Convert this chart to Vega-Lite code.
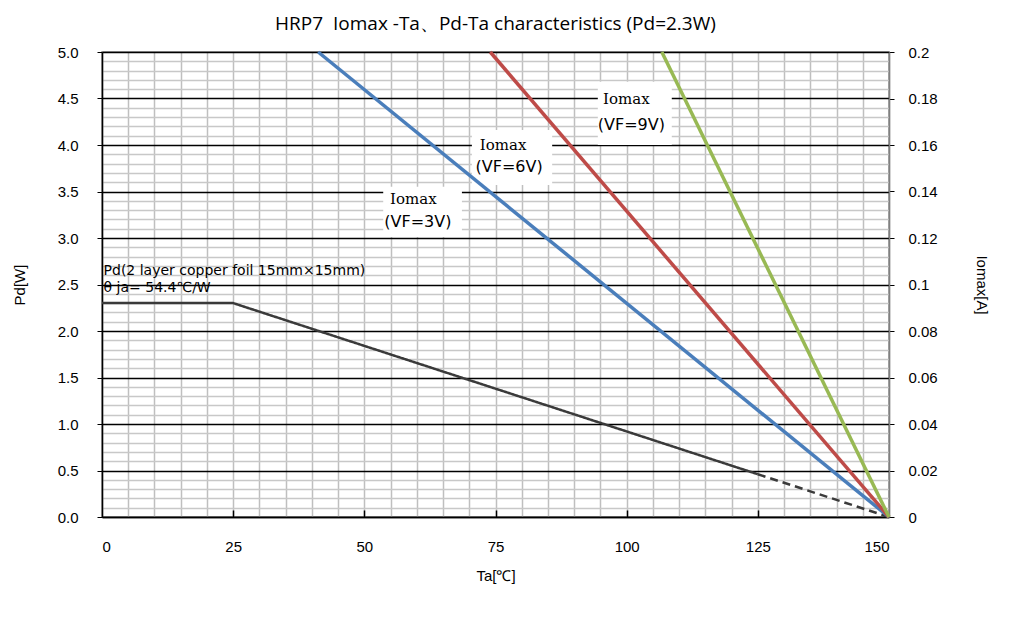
{
  "$schema": "https://vega.github.io/schema/vega-lite/v6.json",
  "width": 787,
  "height": 465,
  "autosize": "none",
  "padding": {"left": 102, "top": 52, "right": 128, "bottom": 113},
  "background": "white",
  "title": {"text": "HRP7\u00a0\u00a0Iomax -Ta、Pd-Ta characteristics\u00a0(Pd=2.3W)", "fontSize": 19, "fontWeight": "normal", "font": "Open Sans", "color": "#000", "offset": 11},
  "config": {
    "view": {"stroke": "#808080", "strokeWidth": 1.5},
    "axis": {"labelFont": "Liberation Sans", "titleFont": "Liberation Sans", "labelFontSize": 15, "titleFontSize": 15, "titleFontWeight": "normal", "labelColor": "#000", "titleColor": "#000"}
  },
  "datasets": {
    "pd": [
      {"Ta": 0, "Pd": 2.3, "style": "solid"},
      {"Ta": 25, "Pd": 2.3, "style": "solid"},
      {"Ta": 125, "Pd": 0.46, "style": "solid"},
      {"Ta": 125, "Pd": 0.46, "style": "dashed"},
      {"Ta": 150, "Pd": 0, "style": "dashed"}
    ],
    "io": [
      {"Ta": 41.2, "I": 0.2, "series": "VF=3V"},
      {"Ta": 150, "I": 0, "series": "VF=3V"},
      {"Ta": 74, "I": 0.2, "series": "VF=6V"},
      {"Ta": 150, "I": 0, "series": "VF=6V"},
      {"Ta": 106.7, "I": 0.2, "series": "VF=9V"},
      {"Ta": 150, "I": 0, "series": "VF=9V"}
    ],
    "boxes": [
      {"Ta": 53.6, "Ta2": 68.6, "Pd": 3.01, "Pd2": 3.55},
      {"Ta": 70.5, "Ta2": 85.8, "Pd": 3.57, "Pd2": 4.16},
      {"Ta": 94.5, "Ta2": 108.6, "Pd": 4.0, "Pd2": 4.68}
    ],
    "lab1": [
      {"Ta": 54.9, "Pd": 3.42, "text": "Iomax"},
      {"Ta": 72.0, "Pd": 4.0, "text": "Iomax"},
      {"Ta": 95.5, "Pd": 4.5, "text": "Iomax"}
    ],
    "lab2": [
      {"Ta": 53.8, "Pd": 3.17, "text": "(VF=3V)"},
      {"Ta": 71.2, "Pd": 3.76, "text": "(VF=6V)"},
      {"Ta": 94.5, "Pd": 4.22, "text": "(VF=9V)"}
    ],
    "note": [
      {"Ta": 0.3, "Pd": 2.64, "text": "Pd(2 layer copper foil  15mm×15mm)"},
      {"Ta": 0.3, "Pd": 2.46, "text": "θ ja= 54.4℃/W"}
    ]
  },
  "encoding": {
    "x": {
      "field": "Ta", "type": "quantitative",
      "scale": {"domain": [0, 150], "nice": false},
      "axis": {
        "title": "Ta[℃]",
        "values": [0,5,10,15,20,25,30,35,40,45,50,55,60,65,70,75,80,85,90,95,100,105,110,115,120,125,130,135,140,145,150],
        "labelExpr": "datum.value % 25 === 0 ? datum.label : ''",
        "labelOverlap": false,
        "grid": true,
        "gridColor": "#bfbfbf",
        "gridWidth": 1.5,
        "gridOpacity": 1,
        "domainColor": "#000",
        "domainWidth": 1.5,
        "ticks": true,
        "tickSize": -7,
        "tickWidth": 1.5,
        "tickColor": {"condition": {"test": "datum.value % 25 === 0 && datum.value > 0 && datum.value < 150", "value": "#000"}, "value": "transparent"},
        "labelPadding": 29,
        "titlePadding": 14
      }
    }
  },
  "layer": [
    {
      "encoding": {
        "y": {
          "field": "Pd", "type": "quantitative",
          "scale": {"domain": [0, 5], "nice": false},
          "axis": {
            "title": "Pd[W]",
            "values": [0,0.1,0.2,0.3,0.4,0.5,0.6,0.7,0.8,0.9,1,1.1,1.2,1.3,1.4,1.5,1.6,1.7,1.8,1.9,2,2.1,2.2,2.3,2.4,2.5,2.6,2.7,2.8,2.9,3,3.1,3.2,3.3,3.4,3.5,3.6,3.7,3.8,3.9,4,4.1,4.2,4.3,4.4,4.5,4.6,4.7,4.8,4.9,5],
            "labelExpr": "round(datum.value*10) % 5 === 0 ? format(datum.value, '.1f') : ''",
            "labelOverlap": false,
            "grid": true,
            "gridColor": {"condition": {"test": "round(datum.value*10) % 5 === 0", "value": "#000"}, "value": "#c8c8c8"},
            "gridWidth": 1.5,
            "gridOpacity": 1,
            "domainColor": "#000",
            "domainWidth": 1.5,
            "tickColor": {"condition": {"test": "round(datum.value*10) % 5 === 0", "value": "#000"}, "value": "transparent"},
            "tickSize": 5,
            "labelPadding": 19,
            "titlePadding": 30
          }
        }
      },
      "layer": [
        {
          "data": {"name": "pd"},
          "mark": {"type": "line", "color": "#3a3a3a", "strokeWidth": 2.5},
          "encoding": {
            "strokeDash": {
              "field": "style", "type": "nominal",
              "scale": {"domain": ["solid", "dashed"], "range": [[1, 0], [8, 5]]},
              "legend": null
            }
          }
        },
        {
          "data": {"name": "boxes"},
          "mark": {"type": "rect", "color": "white"},
          "encoding": {
            "x2": {"field": "Ta2"},
            "y2": {"field": "Pd2"}
          }
        },
        {
          "data": {"name": "lab1"},
          "mark": {"type": "text", "align": "left", "baseline": "middle", "font": "DejaVu Serif", "fontSize": 15, "color": "#000"},
          "encoding": {
            "text": {"field": "text"}
          }
        },
        {
          "data": {"name": "lab2"},
          "mark": {"type": "text", "align": "left", "baseline": "middle", "font": "DejaVu Sans", "fontSize": 16, "color": "#000"},
          "encoding": {
            "text": {"field": "text"}
          }
        },
        {
          "data": {"name": "note"},
          "mark": {"type": "text", "align": "left", "baseline": "middle", "font": "DejaVu Sans", "fontSize": 14, "color": "#000"},
          "encoding": {
            "text": {"field": "text"}
          }
        }
      ]
    },
    {
      "data": {"name": "io"},
      "mark": {"type": "line", "strokeWidth": 3.5},
      "encoding": {
        "y": {
          "field": "I", "type": "quantitative",
          "scale": {"domain": [0, 0.2], "nice": false},
          "axis": {
            "orient": "right",
            "title": "Iomax[A]",
            "values": [0, 0.02, 0.04, 0.06, 0.08, 0.1, 0.12, 0.14, 0.16, 0.18, 0.2],
            "format": "~g",
            "labelOverlap": false,
            "grid": false,
            "domainColor": "#808080",
            "domainWidth": 1.5,
            "tickColor": "#000",
            "tickSize": 5,
            "labelPadding": 14,
            "titlePadding": 36
          }
        },
        "color": {
          "field": "series", "type": "nominal",
          "scale": {"domain": ["VF=3V", "VF=6V", "VF=9V"], "range": ["#4a7ebb", "#be4b48", "#98b954"]},
          "legend": null
        }
      }
    }
  ],
  "resolve": {"scale": {"y": "independent"}}
}
